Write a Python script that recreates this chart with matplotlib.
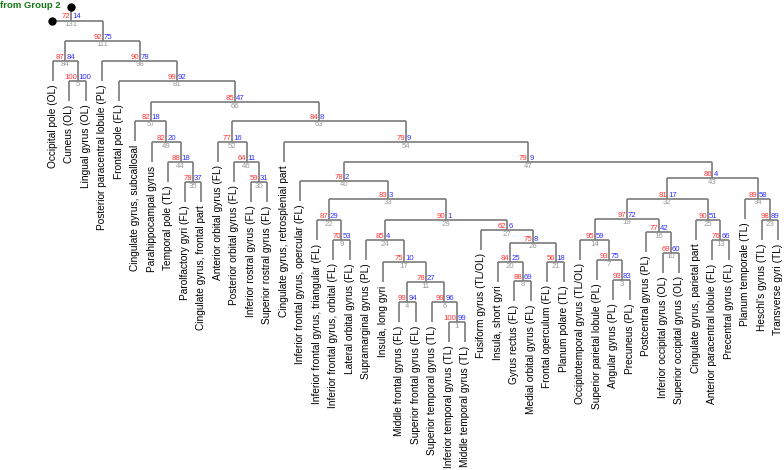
import matplotlib
matplotlib.use('Agg')
import matplotlib.pyplot as plt

plt.rcParams['font.family'] = ['Liberation Sans', 'DejaVu Sans']

# leaves, left to right
leaves = ['Occipital pole (OL)', 'Cuneus (OL)', 'Lingual gyrus (OL)',
          'Posterior paracentral lobule (PL)', 'Frontal pole (FL)',
          'Cingulate gyrus, subcallosal', 'Parahippocampal gyrus', 'Temporal pole (TL)',
          'Parolfactory gyri (FL)', 'Cingulate gyrus, frontal part',
          'Anterior orbital gyrus (FL)', 'Posterior orbital gyrus (FL)',
          'Inferior rostral gyrus (FL)', 'Superior rostral gyrus (FL)',
          'Cingulate gyrus, retrosplenial part', 'Inferior frontal gyrus, opercular (FL)',
          'Inferior frontal gyrus, triangular (FL)', 'Inferior frontal gyrus, orbital (FL)',
          'Lateral orbital gyrus (FL)', 'Supramarginal gyrus (PL)', 'Insula, long gyri',
          'Middle frontal gyrus (FL)', 'Superior frontal gyrus (FL)',
          'Superior temporal gyrus (TL)', 'Inferior temporal gyrus (TL)',
          'Middle temporal gyrus (TL)', 'Fusiform gyrus (TL/OL)', 'Insula, short gyri',
          'Gyrus rectus (FL)', 'Medial orbital gyrus (FL)', 'Frontal operculum (FL)',
          'Planum polare (TL)', 'Occipitotemporal gyrus (TL/OL)',
          'Superior parietal lobule (PL)', 'Angular gyrus (PL)', 'Precuneus (PL)',
          'Postcentral gyrus (PL)', 'Inferior occipital gyrus (OL)',
          'Superior occipital gyrus (OL)', 'Cingulate gyrus, parietal part',
          'Anterior paracentral lobule (FL)', 'Precentral gyrus (FL)',
          'Planum temporale (TL)', "Heschl's gyrus (TL)", 'Transverse gyri (TL)']

# merges: negative = leaf number (1-based), positive = edge number of an earlier merge
edge = [1, 3, 4, 5, 6, 7, 8, 9, 10, 11, 13, 14, 16, 17, 19, 20, 21, 22, 23, 24, 25, 26,
        27, 29, 30, 32, 33, 34, 35, 40, 43, 44, 46, 47, 49, 52, 54, 57, 63, 66, 81, 84, 98, 111]
left = [-25, -35, -22, -2, -24, -34, -29, -18, -38, 4, -41, -33, -37, -21, 14, -28, -31,
        -17, -44, -20, -40, 20, -27, 24, -13, 19, 22, -43, -9, -16, 32, -8, -12, 40, -7,
        -11, -15, -6, 52, 57, -5, -1, -4, 84]
right = [-26, -36, -23, -3, 1, 3, -30, -19, -39, 6, -42, 7, 10, 11, 16, 8, -32, 9, -45,
         17, 13, 21, 26, 27, -14, 25, 29, 23, -10, 33, 34, 35, 30, 43, 44, 46, 47, 49, 54,
         63, 66, 5, 81, 98]
height = [8, 50, 28, 249, 28, 70, 49, 90, 77, 48, 90, 90, 98, 68, 111, 68, 68, 110, 110,
          90, 110, 87, 100, 110, 148, 131, 131, 131, 148, 149, 152, 168, 168, 168, 188,
          188, 188, 209, 209, 228, 249, 269, 269, 289]
au = [100, 93, 99, 100, 99, 93, 88, 70, 69, 78, 76, 95, 77, 75, 97, 84, 56, 87, 98, 85,
      90, 75, 62, 90, 59, 81, 83, 89, 78, 78, 86, 88, 64, 79, 82, 77, 79, 82, 84, 85, 99,
      87, 90, 92]
bp = [99, 83, 94, 100, 96, 75, 69, 53, 60, 27, 66, 59, 42, 10, 72, 25, 18, 29, 89, 4,
      51, 8, 6, 1, 31, 17, 3, 58, 37, 2, 4, 18, 11, 9, 20, 16, 9, 18, 8, 47, 92, 84, 78, 75]

# link to the rest of the tree (Group 2)
root_edge, root_height, root_au, root_bp = 131, 309.5, 72, 14
root_x, group_x, group_top = 1.1, -0.05, 323

hang = 19.5
line_col = '#7a7a7a'

fig = plt.figure(figsize=(7.84, 4.70), dpi=100)
ax = fig.add_axes([0, 0, 1, 1])
ax.set_xlim(-3.216, 44.357)
ax.set_ylim(-140, 330)
ax.axis('off')

pos = {}
top = {}
for i in range(len(leaves)):
    pos[-(i + 1)] = i

for k in range(len(edge)):
    a, b, h = left[k], right[k], height[k]
    xa, xb = pos[a], pos[b]
    for c, xc in ((a, xa), (b, xb)):
        y0 = top[c] if c > 0 else h - hang
        ax.plot([xc, xc], [y0, h], color=line_col, lw=1.2, solid_capstyle='butt')
        if c < 0:
            ax.text(xc, h - hang - 4, leaves[-c - 1], rotation=90, ha='center', va='top',
                    fontsize=7.3)
    ax.plot([xa, xb], [h, h], color=line_col, lw=1.2, solid_capstyle='butt')
    xm = (xa + xb) / 2
    pos[edge[k]] = xm
    top[edge[k]] = h
    ax.text(xm - 0.03, h + 2, str(au[k]), color='#ff3030', fontsize=5.6, ha='right', va='baseline')
    ax.text(xm + 0.06, h + 2, str(bp[k]), color='#3030ff', fontsize=5.6, ha='left', va='baseline')
    ax.text(xm, h - 0.5, str(edge[k]), color='#999999', fontsize=5.6, ha='center', va='top')

# root joining the group
xa = pos[111]
ax.plot([xa, xa], [top[111], root_height], color=line_col, lw=1.2, solid_capstyle='butt')
ax.plot([group_x, xa], [root_height, root_height], color=line_col, lw=1.2, solid_capstyle='butt')
ax.plot([root_x, root_x], [root_height, group_top], color=line_col, lw=1.2, solid_capstyle='butt')
ax.plot([group_x, root_x], [root_height, group_top], 'o', color='black', ms=5)
ax.text(root_x - 0.03, root_height + 2, str(root_au), color='#ff3030', fontsize=5.6, ha='right', va='baseline')
ax.text(root_x + 0.06, root_height + 2, str(root_bp), color='#3030ff', fontsize=5.6, ha='left', va='baseline')
ax.text(root_x, root_height - 0.5, str(root_edge), color='#999999', fontsize=5.6, ha='center', va='top')

ax.text(-3.2, 324, 'from Group 2', color='#137813', fontsize=6.8, fontweight='bold',
        ha='left', va='center')

fig.savefig('out.png', dpi=100)
plt.close()
